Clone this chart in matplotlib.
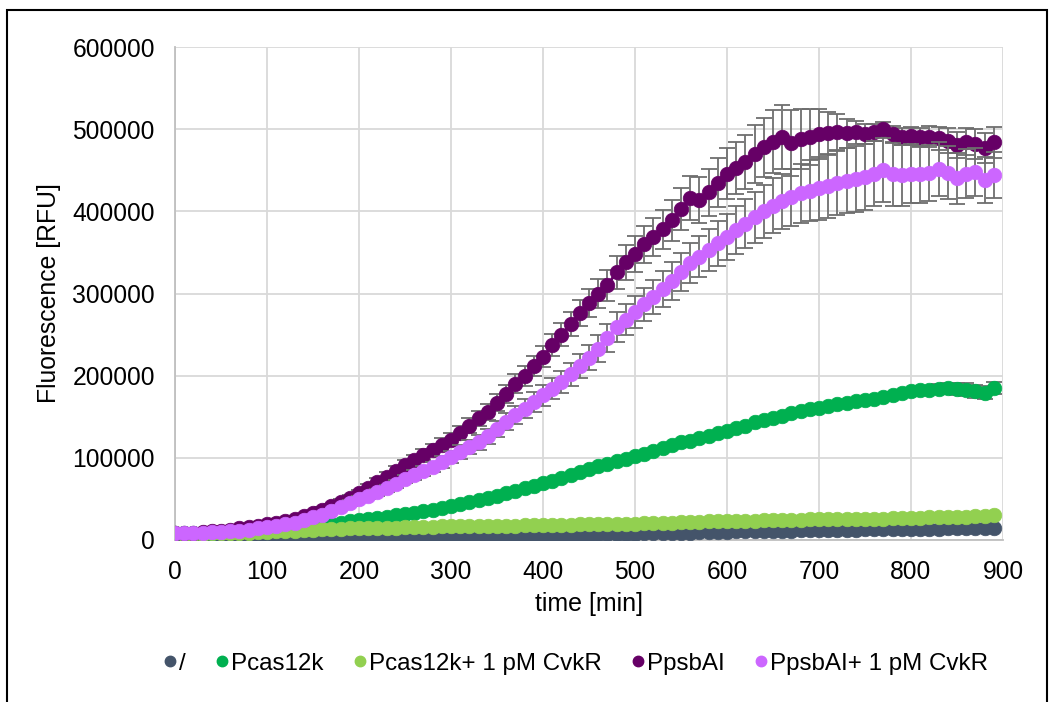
import numpy as np
import matplotlib
matplotlib.use("Agg")
import matplotlib.pyplot as plt
from matplotlib.patches import Rectangle

plt.rcParams['font.family'] = ['Liberation Sans', 'DejaVu Sans']

time_min = list(range(0, 900, 10))

blank = [7000, 6500, 6000, 5500, 5000, 5000, 4500, 4500, 4500, 4000,
         4000, 4000, 4000, 4000, 4000, 4000, 4000, 4000, 4000, 4000,
         4000, 4000, 4000, 4500, 4500, 4500, 4500, 4500, 5000, 5000,
         5000, 5000, 5000, 5500, 5500, 5500, 5500, 5500, 6000, 6000,
         6000, 6000, 6500, 6500, 6500, 6500, 7000, 7000, 7000, 7500,
         7500, 8000, 8000, 8500, 8500, 9000, 9000, 9500, 9500, 10000,
         10000, 10500, 10500, 11000, 11000, 11500, 11500, 11500, 12000, 12000,
         12000, 12500, 12500, 12500, 12500, 13000, 13000, 13000, 13000, 13000,
         13000, 13500, 13500, 13500, 14000, 14000, 14000, 14000, 14500, 14500]

pcas = [8000, 8000, 8000, 8500, 9000, 9500, 10000, 10500, 11000, 12000,
        13000, 14000, 15000, 16000, 17000, 18000, 19000, 20000, 21000, 22500,
        24000, 25500, 27000, 28500, 30000, 31500, 33000, 35000, 37000, 39000,
        41000, 43500, 46000, 48500, 51000, 54000, 57000, 60000, 63000, 66000,
        69000, 72000, 75000, 79000, 83000, 87000, 90000, 93000, 96000, 99000,
        102000, 105000, 108000, 112000, 116000, 119000, 121000, 124000, 127000, 130000,
        133000, 136000, 139000, 143000, 146000, 149000, 151000, 154000, 157000, 159000,
        161000, 163000, 165000, 167000, 169000, 170000, 172000, 174000, 177000, 179000,
        181000, 182000, 183000, 184000, 185000, 184000, 183000, 181000, 179000, 185000]

pcas_err = [300, 300, 300, 300, 300, 400, 400, 400, 400, 500,
            500, 500, 500, 600, 600, 600, 600, 700, 700, 700,
            800, 800, 800, 900, 900, 900, 1000, 1000, 1000, 1100,
            1100, 1100, 1200, 1200, 1200, 1300, 1300, 1300, 1400, 1400,
            1400, 1500, 1500, 1500, 1600, 1600, 1600, 1700, 1700, 1700,
            1800, 1800, 1800, 1900, 1900, 1900, 2000, 2000, 2000, 2100,
            2100, 2100, 2200, 2200, 2200, 2300, 2300, 2300, 2400, 2400,
            2400, 2500, 2500, 2500, 2600, 2600, 2700, 2800, 3000, 3200,
            3500, 4000, 5000, 6000, 6500, 7000, 7500, 8000, 8000, 7500]

pcas_cvkr = [8000, 7500, 7500, 7500, 8000, 8000, 8500, 8500, 9000, 9500,
             10000, 10500, 11000, 11500, 12000, 12500, 13000, 13000, 13500, 14000,
             14000, 14500, 14500, 15000, 15000, 15500, 15500, 16000, 16000, 16500,
             16500, 16500, 17000, 17000, 17000, 17500, 17500, 17500, 18000, 18000,
             18000, 18500, 18500, 18500, 19000, 19000, 19000, 19500, 19500, 20000,
             20000, 20500, 20500, 21000, 21000, 21500, 21500, 22000, 22500, 22500,
             23000, 23000, 23500, 23500, 24000, 24000, 24000, 24500, 24500, 25000,
             25000, 25000, 25500, 25500, 25500, 26000, 26000, 26000, 26500, 26500,
             27000, 27000, 27500, 27500, 28000, 28500, 28500, 29000, 29500, 30000]

ppsb = [8000, 8500, 9000, 9500, 10500, 11500, 12500, 14000, 15500, 17000,
        19000, 21000, 23500, 26000, 29000, 33000, 37000, 41000, 46000, 51000,
        57000, 63000, 70000, 77000, 84000, 91000, 97000, 104000, 110000, 116000,
        122000, 130000, 139000, 148000, 156000, 167000, 178000, 190000, 200000, 212000,
        223000, 237000, 250000, 263000, 276000, 289000, 300000, 310000, 326000, 338000,
        348000, 360000, 369000, 378000, 389000, 403000, 416000, 414000, 423000, 435000,
        446000, 453000, 460000, 470000, 478000, 485000, 490000, 483000, 488000, 491000,
        494000, 495000, 497000, 495000, 496000, 494000, 496000, 500000, 494000, 491000,
        492000, 490000, 491000, 489000, 486000, 481000, 485000, 482000, 477000, 484000]

ppsb_err = [500, 500, 500, 600, 700, 800, 900, 1000, 1100, 1200,
            1400, 1600, 1800, 2000, 2300, 2600, 2900, 3200, 3500, 3800,
            4200, 4600, 5000, 5400, 5800, 6200, 6600, 7000, 7400, 7800,
            8200, 8600, 9000, 9500, 10000, 10500, 11000, 11500, 12000, 12500,
            13000, 13500, 14000, 15000, 16000, 17000, 18000, 19000, 20000, 21000,
            22000, 22500, 23000, 24000, 25000, 26000, 27000, 28000, 29000, 30000,
            31000, 32000, 33000, 35000, 36000, 38000, 39000, 40000, 37000, 34000,
            30000, 26000, 22000, 18000, 14000, 12000, 10000, 9000, 10000, 10000,
            11000, 12000, 13000, 14000, 15000, 16000, 17000, 18000, 18000, 19000]

ppsb_cvkr = [8000, 8000, 8500, 9000, 9500, 10000, 10500, 11500, 12500, 14000,
             15500, 17000, 19000, 21000, 24000, 27500, 31000, 35000, 40000, 45000,
             50000, 54000, 58000, 63000, 68000, 74000, 79000, 84000, 89000, 95000,
             101000, 107000, 113000, 119000, 126000, 135000, 144000, 152000, 160000, 168000,
             176000, 184000, 192000, 202000, 212000, 222000, 233000, 246000, 259000, 268000,
             278000, 287000, 296000, 305000, 315000, 326000, 337000, 345000, 353000, 361000,
             369000, 377000, 385000, 393000, 400000, 407000, 412000, 417000, 422000, 425000,
             428000, 431000, 434000, 437000, 439000, 442000, 446000, 450000, 445000, 444000,
             446000, 445000, 447000, 452000, 447000, 440000, 446000, 448000, 438000, 444000]

ppsb_cvkr_err = [400, 400, 500, 500, 600, 600, 700, 800, 900, 1000,
                 1100, 1200, 1400, 1600, 1800, 2000, 2200, 2500, 2800, 3100,
                 3400, 3700, 4000, 4400, 4800, 5200, 5600, 6000, 6500, 7000,
                 7500, 8000, 8500, 9000, 9500, 10000, 10500, 11000, 11500, 12000,
                 12500, 13000, 13500, 14000, 14500, 15000, 16000, 17000, 18000, 19000,
                 19500, 20000, 21000, 22000, 23000, 23500, 24000, 25000, 26000, 27000,
                 28000, 29000, 30000, 31000, 32000, 33000, 34000, 35000, 36000, 37000,
                 38000, 38500, 39000, 39500, 40000, 40000, 40000, 39000, 38000, 37000,
                 36000, 35000, 34000, 33000, 32000, 31000, 30000, 29000, 28000, 28000]

labels = ['/', 'Pcas12k', 'Pcas12k+ 1 pM CvkR', 'PpsbAI', 'PpsbAI+ 1 pM CvkR']
colors = ['#44546A', '#00B050', '#92D050', '#660066', '#CC66FF']

fig = plt.figure(figsize=(10.52, 7.02), dpi=100)
ax = fig.add_axes([0.1663, 0.2308, 0.7871, 0.7022])

series = [(blank, None), (pcas, pcas_err), (pcas_cvkr, None),
          (ppsb, ppsb_err), (ppsb_cvkr, ppsb_cvkr_err)]
z = 3
for (vals, err), lab, col in zip(series, labels, colors):
    if err is not None:
        ax.errorbar(time_min, vals, yerr=err, fmt='none', ecolor='#6E6E6E',
                    elinewidth=1.3, capsize=6, capthick=1.3, zorder=z)
    ax.plot(time_min, vals, '-o', color=col, markersize=10.5, markeredgewidth=0.5,
            linewidth=2, label=lab, zorder=z + 0.5)
    z += 1

ax.set_xlim(0, 900)
ax.set_ylim(0, 600000)
ax.set_xticks(range(0, 901, 100))
ax.set_yticks(range(0, 600001, 100000))
ax.grid(True, color='#D9D9D9', linewidth=1.3)
ax.set_axisbelow(True)
for s in ['top', 'right']:
    ax.spines[s].set_visible(False)
for s in ['left', 'bottom']:
    ax.spines[s].set_color('#BFBFBF')
    ax.spines[s].set_linewidth(1.3)
ax.tick_params(length=0, labelsize=17.7, pad=14.5)
ax.set_xlabel('time [min]', fontsize=18, labelpad=6)
ax.set_ylabel('Fluorescence [RFU]', fontsize=17.8, labelpad=8)

leg_handles = [plt.Line2D([], [], marker='o', linestyle='none', color=c,
                          markersize=7.5) for c in colors]
fig.legend(leg_handles, labels, loc='center', bbox_to_anchor=(0.5475, 0.0545),
           ncol=5, frameon=False, fontsize=17.4, handletextpad=0.12,
           columnspacing=1.25, handlelength=0.5, borderpad=0)

fig.patches.append(Rectangle((7 / 1052, -0.02), 1040 / 1052, 1 - 10 / 702 + 0.02,
                             transform=fig.transFigure, fill=False,
                             edgecolor='black', linewidth=1.5))

fig.savefig('out.png', dpi=100)
